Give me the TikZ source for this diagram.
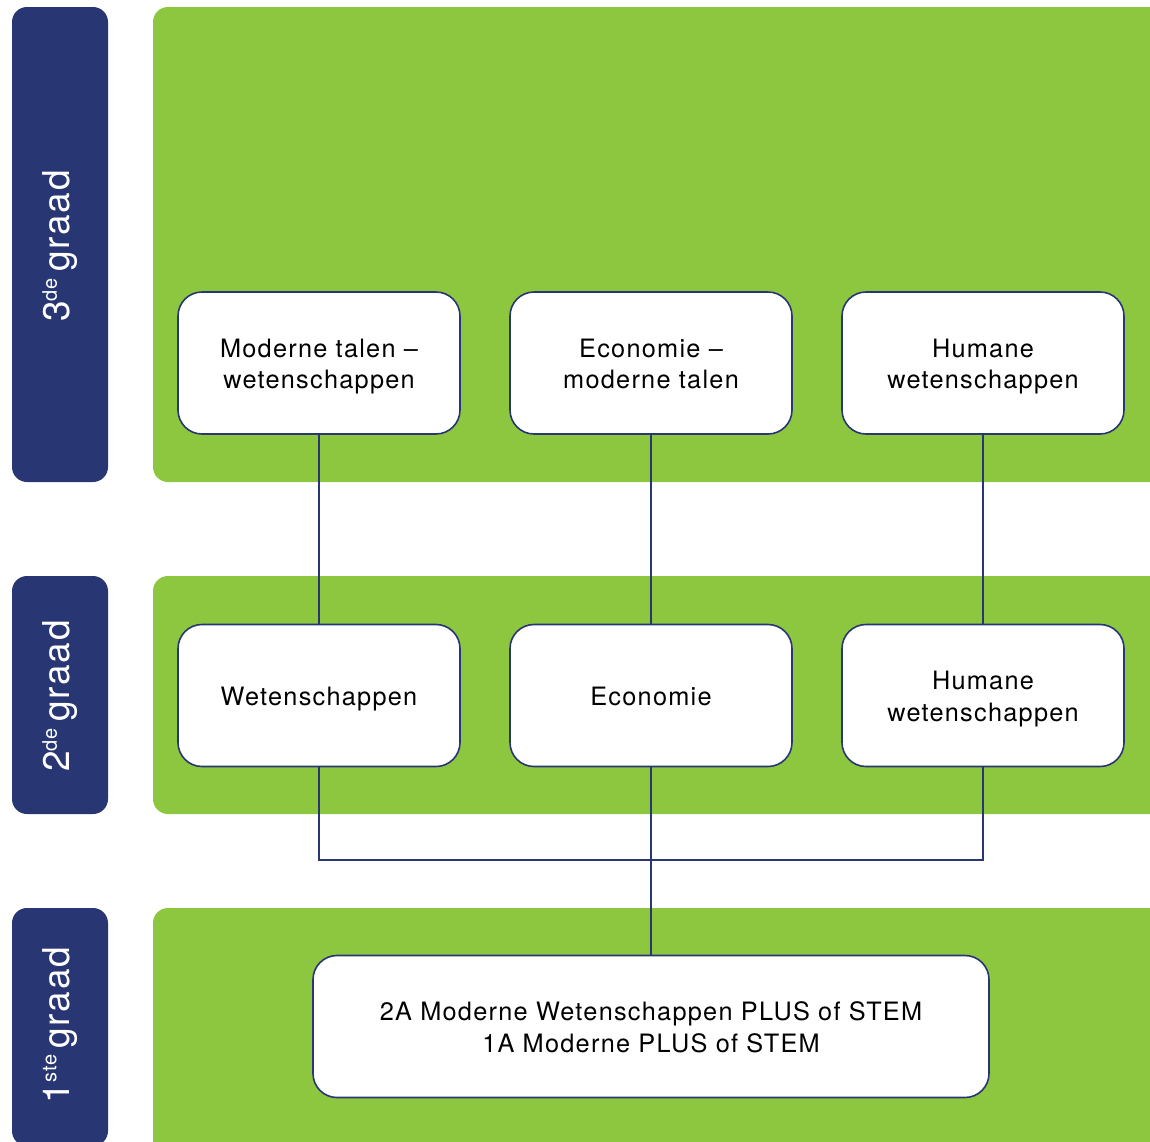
\documentclass[tikz,border=0pt]{standalone}
\usepackage{fontspec}
\setmainfont[LetterSpace=5]{TeX Gyre Heros}
\definecolor{navy}{HTML}{283673}
\definecolor{leaf}{HTML}{8DC63F}
\newcommand\cardstrut{\rule[-6pt]{0pt}{31.5pt}}
\begin{document}
\begin{tikzpicture}[x=1pt,y=-1pt,
  panel/.style={fill=leaf, rounded corners=15pt},
  bar/.style={fill=navy, rounded corners=15pt},
  card/.style={draw=navy, line width=1.6pt, fill=white, rounded corners=24pt,
    minimum width=282pt, minimum height=142pt, align=center, inner sep=0pt,
    font=\fontsize{25.3}{31.5}\selectfont},
  wide/.style={card, minimum width=676pt},
  side/.style={rotate=90, text=white, inner sep=0pt, font=\fontsize{37}{37}\selectfont},
  link/.style={draw=navy, line width=1.5pt}]
\useasboundingbox (0,0) rectangle (1150,1141);
\clip (0,0) rectangle (1150,1141);
% panels
\path[panel] (153,7) rectangle (1200,482);
\path[panel] (153,576) rectangle (1200,814);
\path[panel] (153,908) rectangle (1200,1200);
\path[bar] (12,7) rectangle (108,482);
\path[bar] (12,576) rectangle (108,814);
\path[bar] (12,908) rectangle (108,1146);
% side labels
\node[side] (l3) at (60,246) {3\raisebox{13pt}{\fontsize{20}{20}\selectfont de}\,graad};
\node[side] (l2) at (60,696) {2\raisebox{13pt}{\fontsize{20}{20}\selectfont de}\,graad};
\node[side] (l1) at (60,1025) {1\raisebox{13pt}{\fontsize{20}{20}\selectfont ste}\,graad};
% cards
\node[card] (t1) at (319,363) {\cardstrut Moderne talen --\\\cardstrut wetenschappen};
\node[card] (t2) at (651,363) {\cardstrut Economie --\\\cardstrut moderne talen};
\node[card] (t3) at (983,363) {\cardstrut Humane\\\cardstrut wetenschappen};
\node[card] (m1) at (319,695.5) {\cardstrut Wetenschappen};
\node[card] (m2) at (651,695.5) {\cardstrut Economie};
\node[card] (m3) at (983,695.5) {\cardstrut Humane\\\cardstrut wetenschappen};
\node[wide] (b) at (651,1026.5) {\cardstrut 2A Moderne Wetenschappen PLUS of STEM\\\cardstrut 1A Moderne PLUS of STEM};
\coordinate (j) at (651,860);
% connectors
\draw[link] (t1.south) -- (m1.north);
\draw[link] (t2.south) -- (m2.north);
\draw[link] (t3.south) -- (m3.north);
\draw[link] (m1.south) -- (m1.south |- j) -- (m3.south |- j) -- (m3.south);
\draw[link] (m2.south) -- (b.north);
\end{tikzpicture}
\end{document}
